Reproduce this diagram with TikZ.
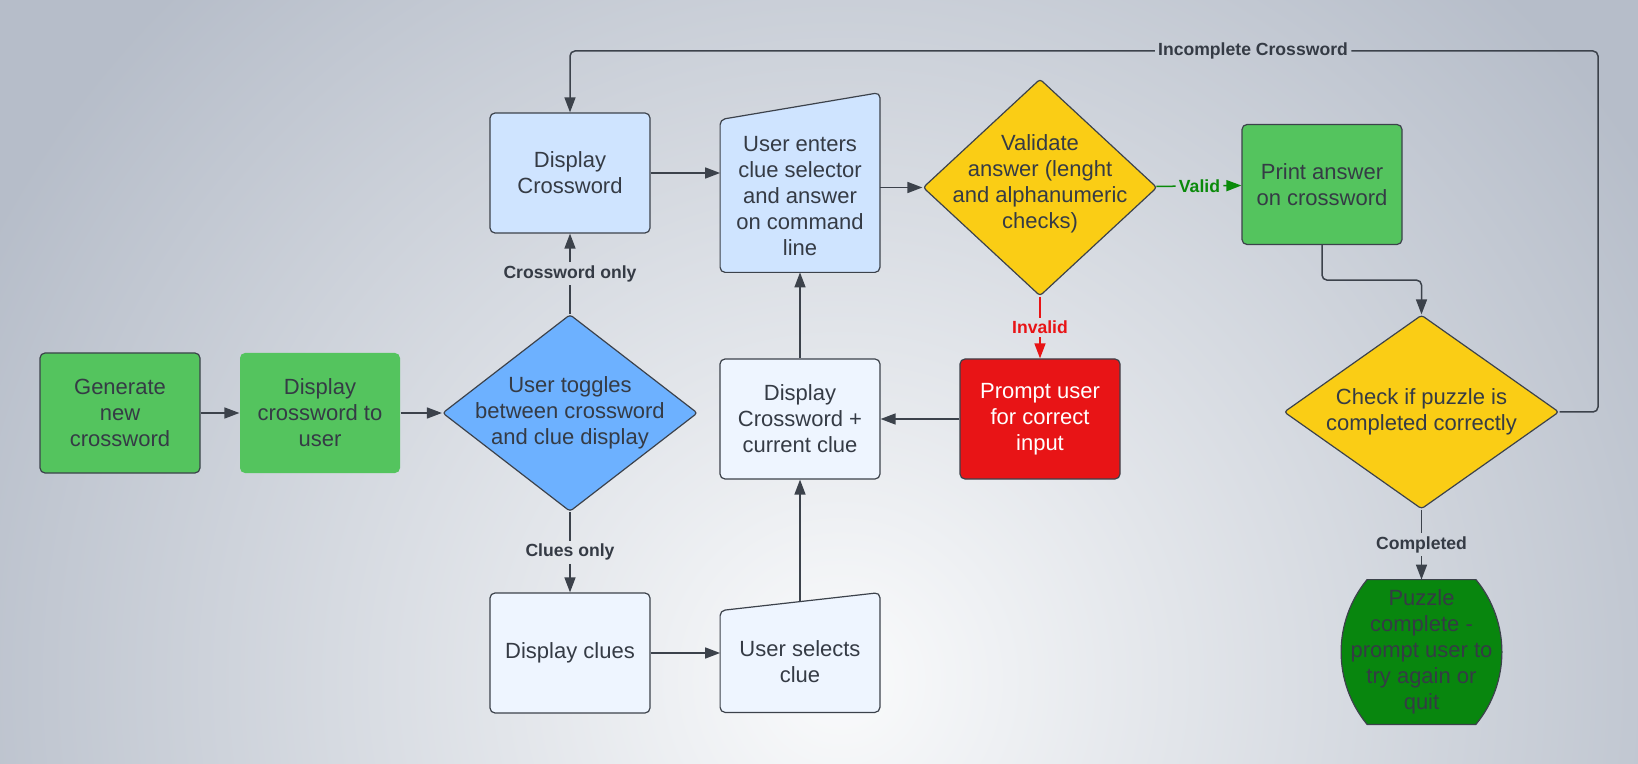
\documentclass[tikz,border=0pt]{standalone}
\usepackage{fontspec}
\setmainfont{Liberation Sans}
\usetikzlibrary{shapes,arrows.meta,calc,backgrounds}

\definecolor{bgout}{HTML}{B6BDC9}
\definecolor{bgin}{HTML}{FAFBFC}
\definecolor{ink}{HTML}{353B45}
\definecolor{wire}{HTML}{3C424B}
\definecolor{leaf}{HTML}{54C45E}
\definecolor{ice}{HTML}{CFE4FF}
\definecolor{frost}{HTML}{EEF5FF}
\definecolor{sky}{HTML}{6DB1FF}
\definecolor{gold}{HTML}{FACD15}
\definecolor{alarm}{HTML}{E81416}
\definecolor{forest}{HTML}{08860E}
\definecolor{okgreen}{HTML}{0A8A0A}

\begin{document}
\begin{tikzpicture}[x=0.5pt,y=-0.5pt,>={Triangle[length=7.5pt,width=5.5pt]},
                    node distance=120pt,font=\fontsize{11}{13}\selectfont,
                    box/.style={rectangle,rounded corners=2.5pt,draw=wire,line width=0.6pt,
                                minimum width=80pt,minimum height=60pt,inner sep=0pt,
                                align=center,text=ink},
                    choice/.style={diamond,rounded corners=1.5pt,draw=wire,line width=0.6pt,
                                   inner sep=0pt,fill=gold},
                    inbox/.style={rectangle,minimum width=79.5pt,inner sep=0pt,align=center,text=ink},
                    tag/.style={font=\bfseries\fontsize{8.8}{10}\selectfont,text=ink,inner sep=1.5pt},
                    flow/.style={->,draw=wire,line width=0.75pt,rounded corners=2.5pt}]

  \useasboundingbox (0,0) rectangle (1638,764);
  \begin{scope}[on background layer]
    \clip (0,0) rectangle (1638,764);
    \fill[bgout] (0,0) rectangle (1638,764);
    \shade[inner color=bgin,outer color=bgout] (840,680) circle (960);
  \end{scope}

  \node[box,fill=leaf]          (0) at (120,413) {Generate\\new\\crossword};
  \node[box,fill=leaf,draw=none] (1) [right of=0, xshift=-20pt] {Display\\crossword to\\user};
  \node[choice,fill=sky,minimum width=127.5pt,minimum height=98.5pt,
        label={[align=center,text=ink]center:User toggles\\between crossword\\and clue display}]
                                (2) [right of=1, xshift=5pt] {};
  \node[box,fill=ice]           (3) [above of=2] {Display\\Crossword};
  \node[box,fill=frost]         (4) [below of=2] {Display clues};
  \node[box,fill=frost]         (6) [right of=2, xshift=-5pt, yshift=-3pt] {Display\\Crossword +\\current clue};
  \node[inbox,minimum height=50.5pt] (5) [below of=6, yshift=-1.25pt] {User selects\\clue};
  \node[inbox,minimum height=76pt]   (7) [above of=6, yshift=-8.5pt] {User enters\\clue selector\\and answer\\on command\\line};
  \node[box,fill=alarm,text=white] (10) [right of=6] {Prompt user\\for correct\\input};
  \node[choice,minimum width=117pt,minimum height=108.5pt,
        label={[align=center,text=ink,yshift=2pt]center:Validate\\answer (lenght\\and alphanumeric\\checks)}]
                                (8) [above of=10, yshift=-4.25pt] {};
  \node[box,fill=leaf]          (9) [right of=8, xshift=21pt, yshift=1.5pt] {Print answer\\on crossword};
  \node[choice,minimum width=137.5pt,minimum height=97pt,
        label={[align=center,text=ink]center:Check if puzzle is\\completed correctly}]
                                (11) [right of=10, xshift=70.75pt, yshift=3.5pt] {};
  \node[inbox,minimum width=80pt,minimum height=72pt] (12) [below of=11]
        {Puzzle\\complete -\\prompt user to\\try again or\\quit};

  % shapes drawn behind the text
  \begin{scope}[on background layer]
    \filldraw[fill=frost,draw=wire,line width=0.6pt,rounded corners=2.5pt]
      (5.south west) -- (5.south east) -- ([yshift=9pt]5.north east) -- (5.north west) -- cycle;
    \filldraw[fill=ice,draw=wire,line width=0.6pt,rounded corners=2.5pt]
      (7.south west) -- (7.south east) -- ([yshift=13.5pt]7.north east) -- (7.north west) -- cycle;
    \filldraw[fill=forest,draw=wire,line width=0.6pt]
      ([xshift=13pt]12.north west) -- ([xshift=-13pt]12.north east)
      .. controls ([xshift=-4.5pt,yshift=-10.25pt]12.north east) and ([yshift=13pt]12.east) .. (12.east)
      .. controls ([yshift=-13pt]12.east) and ([xshift=-4.5pt,yshift=10.25pt]12.south east) .. ([xshift=-13pt]12.south east)
      -- ([xshift=13pt]12.south west)
      .. controls ([xshift=4.5pt,yshift=10.25pt]12.south west) and ([yshift=-13pt]12.west) .. (12.west)
      .. controls ([yshift=13pt]12.west) and ([xshift=4.5pt,yshift=-10.25pt]12.north west) .. ([xshift=13pt]12.north west)
      -- cycle;
  \end{scope}

  \node[tag]              (l0) at ($(2.north)!0.5!(3.south)$)  {Crossword only};
  \node[tag]              (l1) at ($(2.south)!0.5!(4.north)$)  {Clues only};
  \node[tag,text=okgreen] (l2) at ($(8.east)!0.5!(9.west)$)    {Valid};
  \node[tag,text=alarm]   (l3) at ($(8.south)!0.5!(10.north)$) {Invalid};
  \node[tag]              (l4) at (1253,51)                    {Incomplete Crossword};
  \node[tag]              (l5) at ($(11.south)!0.5!(12.north)$) {Completed};
  \coordinate (c0) at (1598,51);

  \draw[flow] (0) -- (1);
  \draw[flow] (1) -- (2);
  \draw[flow,-] (2) -- (l0);
  \draw[flow] (l0) -- (3);
  \draw[flow,-] (2) -- (l1);
  \draw[flow] (l1) -- (4);
  \draw[flow] (3.east) -- (3.east -| 7.west);
  \draw[flow] (4.east) -- (4.east -| 5.west);
  \draw[flow] ([yshift=4.5pt]5.north) -- (6);
  \draw[flow] (6) -- (7);
  \draw[flow] (7.east |- 8.west) -- (8.west);
  \draw[flow,-,draw=okgreen] (8) -- (l2);
  \draw[flow,draw=okgreen] (l2) -- (9);
  \draw[flow,-,draw=alarm] (8) -- (l3);
  \draw[flow,draw=alarm] (l3) -- (10);
  \draw[flow] (10) -- (6);
  \draw[flow] (9.south) -- ++(0,35) -| (11.north);
  \draw[flow,-] (11.east) -- (c0 |- 11.east) -- (c0) -- (l4);
  \draw[flow] (l4) -| (3);
  \draw[flow,-] (11) -- (l5);
  \draw[flow] (l5) -- (12);
\end{tikzpicture}
\end{document}
